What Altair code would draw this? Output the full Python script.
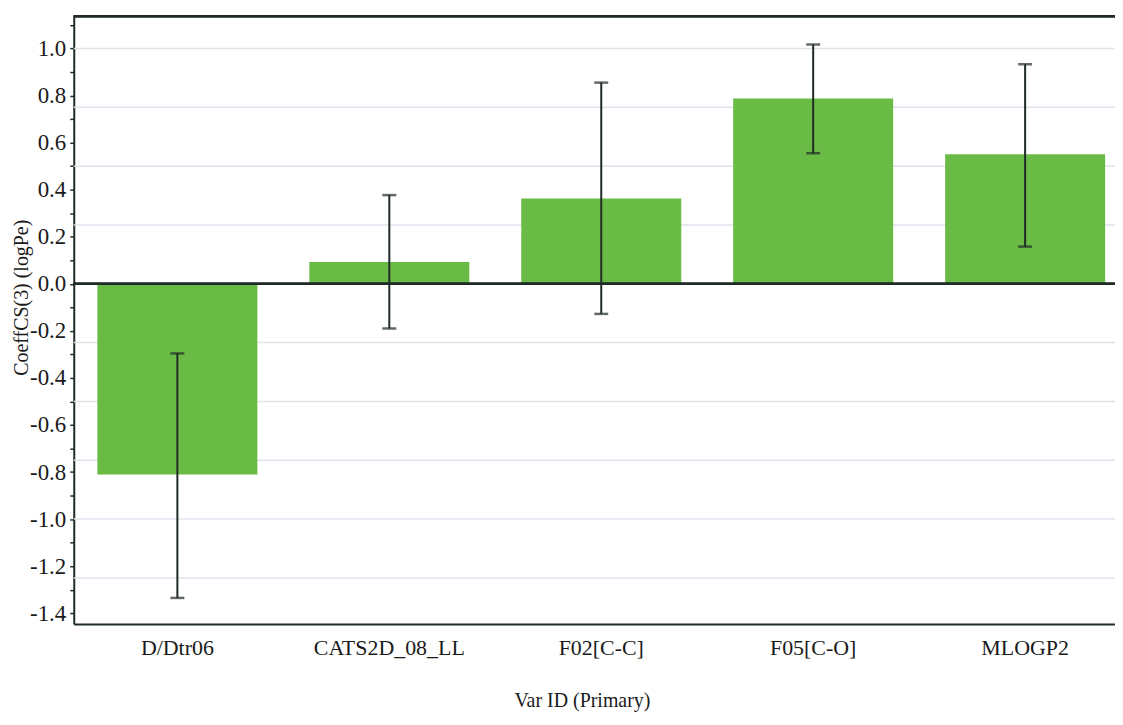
import altair as alt
import pandas as pd

# ---- data ----
variables = ["D/Dtr06", "CATS2D_08_LL", "F02[C-C]", "F05[C-O]", "MLOGP2"]
coefficients = [-0.81, 0.093, 0.362, 0.787, 0.55]
err_low = [-1.335, -0.19, -0.128, 0.555, 0.158]
err_high = [-0.296, 0.377, 0.855, 1.017, 0.933]

y_tick_values = [-1.4, -1.3, -1.2, -1.1, -1.0, -0.9, -0.8, -0.7, -0.6, -0.5, -0.4,
                 -0.3, -0.2, -0.1, 0.0, 0.1, 0.2, 0.3, 0.4, 0.5, 0.6, 0.7, 0.8,
                 0.9, 1.0, 1.1]
grid_values = [-1.25, -1.0, -0.75, -0.5, -0.25, 0.25, 0.5, 0.75, 1.0]
y_domain = [-1.446, 1.137]

df = pd.DataFrame({"var": variables, "coef": coefficients,
                   "low": err_low, "high": err_high})
grid_df = pd.DataFrame({"g": grid_values})

FONT = "Liberation Serif"
DARK = "#1f2b27"
GREEN = "#6abb45"

y_scale = alt.Scale(domain=y_domain, nice=False, zero=False)
x_scale = alt.Scale(paddingInner=0.245, paddingOuter=0.079, align=0.705)

y_axis = alt.Axis(values=y_tick_values,
                  labelExpr="abs(round(datum.value*10)) % 2 == 0 ? ((datum.value < -0.01 ? '-' : '') + format(abs(datum.value), '.1f')) : ''",
                  labelFont=FONT, labelFontSize=23, labelColor="#1a1a1a",
                  labelPadding=4, tickSize=4, tickColor=DARK, tickWidth=1.5,
                  domainColor=DARK, domainWidth=2, grid=False,
                  title="CoeffCS(3) (logPe)", titleFont=FONT,
                  titleFontSize=20, titleFontWeight="normal",
                  titleColor="#1a1a1a", titleX=-52, titleY=282,
                  titleAlign="center", titleBaseline="middle",
                  labelOverlap=False)

x_axis = alt.Axis(title="Var ID (Primary)", labelAngle=0, labelFont=FONT,
                  labelFontSize=22, labelColor="#1a1a1a", labelPadding=14,
                  ticks=False, domain=True, domainColor=DARK, domainWidth=2,
                  grid=False, titleFont=FONT, titleFontSize=20,
                  titleFontWeight="normal", titleColor="#1a1a1a",
                  titleX=510, titleY=77, titleAlign="center",
                  titleBaseline="middle")

x_enc = alt.X("var:N", sort=variables, scale=x_scale, axis=x_axis)

base = alt.Chart(df)

grid = alt.Chart(grid_df).mark_rule(color="#dce4ec", strokeWidth=1.5).encode(
    y=alt.Y("g:Q", scale=y_scale, axis=y_axis)
)

bars = base.mark_bar(color=GREEN).encode(
    x=x_enc,
    y=alt.Y("coef:Q", scale=y_scale, axis=y_axis)
)

zero_line = alt.Chart(df).mark_rule(color=DARK, strokeWidth=2).encode(
    y=alt.datum(0, scale=y_scale, axis=y_axis)
)

# top frame line at the upper end of the value scale
top_line = alt.Chart(df).mark_rule(color=DARK, strokeWidth=2).encode(
    y=alt.datum(y_domain[1], scale=y_scale, axis=y_axis)
)

err_rule = base.mark_rule(color=DARK, strokeWidth=2).encode(
    x=x_enc,
    y=alt.Y("low:Q", scale=y_scale, axis=y_axis),
    y2="high:Q",
)

cap_low = base.mark_tick(color=DARK, size=14, thickness=2.5).encode(
    x=x_enc,
    y=alt.Y("low:Q", scale=y_scale, axis=y_axis),
)

cap_high = base.mark_tick(color=DARK, size=14, thickness=2.5).encode(
    x=x_enc,
    y=alt.Y("high:Q", scale=y_scale, axis=y_axis),
)

chart = alt.layer(grid, bars, zero_line, top_line, err_rule, cap_low, cap_high).properties(
    width=1045,
    height=610,
    padding={"left": 66, "top": 7, "right": 0, "bottom": 88},
    autosize=alt.AutoSizeParams(type="none"),
    background="white",
).configure_view(stroke=None)

chart.save("out.html", embed_options={"renderer": "svg", "actions": False})
